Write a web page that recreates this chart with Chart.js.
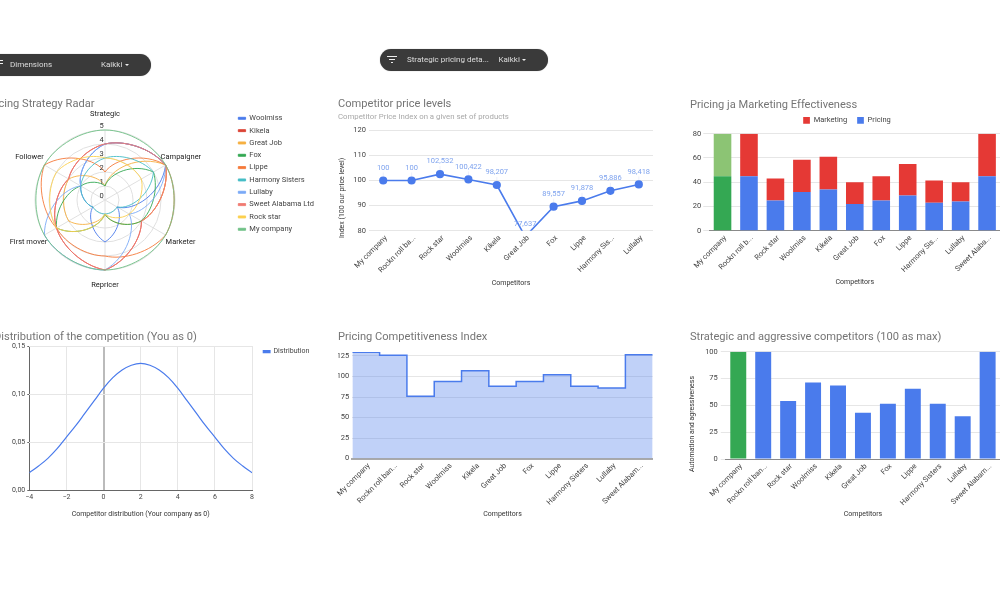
<!DOCTYPE html>
<html><head><meta charset="utf-8">
<script src="https://cdn.jsdelivr.net/npm/chart.js@4"></script>
<style>
html,body{margin:0;padding:0;background:#fff;width:1000px;height:600px;overflow:hidden;font-family:Roboto,Arial,sans-serif}
canvas{position:absolute;display:block;filter:blur(.35px)}
.pill{position:absolute;background:#3a3a3a;border-radius:12px;z-index:5;box-shadow:0 0 1px #999;filter:blur(.3px)}
.pill span{position:absolute;top:0;color:#dedede;font-size:8px;white-space:nowrap}
.pill i{position:absolute;height:1px;background:#eee;display:block}
.pill b{position:absolute;width:0;height:0;border-left:2.2px solid transparent;border-right:2.2px solid transparent;border-top:2.4px solid #eee}
</style></head><body>
<div class="pill" style="left:-30px;top:54px;width:181px;height:22px">
 <i style="left:27px;top:6px;width:6px"></i><i style="left:28px;top:9px;width:5px"></i>
 <span style="left:40px;line-height:22px">Dimensions</span><span style="left:131px;line-height:22px">Kaikki</span><b style="left:155px;top:10px"></b></div>
<div class="pill" style="left:380px;top:49px;width:168px;height:22px">
 <i style="left:7px;top:7px;width:10px"></i><i style="left:9px;top:10px;width:6px"></i><i style="left:11px;top:13px;width:2px"></i>
 <span style="left:27px;line-height:22px">Strategic pricing deta...</span><span style="left:118.5px;line-height:22px">Kaikki</span><b style="left:141.5px;top:10px"></b></div>
<script>
// ---------- data ----------
const radarAxes = ['Strategic','Campaigner','Marketer','Repricer','First mover','Follower'];
const radarTicks = [0,1,2,3,4,5];
const woolmiss = [4,5,1,3,1,2];
const kikela = [4,5,3,5,4,3];
const greatJob = [1,5,3,1,3,3];
const fox = [1,4,3,1,4,2];
const lippe = [2,5,5,4,4,5];
const harmony = [3,4,1,1,1,2];
const lullaby = [4,5,2,5,5,2];
const sweetAlabama = [4,5,3,5,4,3];
const rockStar = [3,3,2,1,4,4];
const myCompany = [5,5,5,5,5,5];

const priceCats = ['My company','Rockn roll ba...','Rock star','Woolmiss','Kikela','Great Job','Fox','Lippe','Harmony Sis...','Lullaby'];
const priceIdx = [100,100,102.532,100.422,98.207,77.637,89.557,91.878,95.886,98.418];

const effCats = ['My company','Rockn roll b...','Rock star','Woolmiss','Kikela','Great Job','Fox','Lippe','Harmony Sis...','Lullaby','Sweet Alaba...'];
const pricingVals = [45,45,25,32,34,22,25,29,23,24,45];
const marketingVals = [35,35,18,26.5,27,18,20,26,18.5,16,35];

const distX = [-4,-3.5,-3,-2.5,-2,-1.5,-1,-0.5,0,0.5,1,1.5,2,2.5,3,3.5,4,4.5,5,5.5,6,6.5,7,7.5,8];
const distY = [0.018,0.025,0.033,0.043,0.055,0.067,0.080,0.093,0.106,0.117,0.125,0.130,0.132,0.130,0.125,0.117,0.106,0.093,0.080,0.067,0.055,0.043,0.033,0.025,0.018];

const compCats = ['My company','Rockn roll ban...','Rock star','Woolmiss','Kikela','Great Job','Fox','Lippe','Harmony Sisters','Lullaby','Sweet Alabam...'];
const compIdx = [129.5,126,76,94,107,88,94,102,88,86,126.5];
const aggrVals = [100,100,54,71.4,68.6,43.2,51.5,65.5,51.5,39.8,100];

// ---------- style ----------
const FF = 'Roboto, Arial, sans-serif';
const BLUE='#4a7bec', GREEN='#34a853', RED='#e53935', LGREEN='#8cc474';
const GRID='#e6e6e6', TICK='#444', AXT='#333', TITLE='#757575';
const TS = 11.1;

function place(box){
  const c=document.createElement('canvas');
  c.width=box.R-box.L; c.height=box.B-box.T;
  c.style.left=box.L+'px'; c.style.top=box.T+'px';
  document.body.appendChild(c); return c;
}
function titleOpt(text,box,cy,next){
  const lh=TS*1.2,cc=cy+1.2;
  return {display:true,text,align:'start',color:TITLE,font:{family:FF,size:TS,weight:'normal'},
    padding:{top:cc-box.T-lh/2,bottom:next-cc-lh/2}};
}
function fitY(w){return s=>{s.width=w;s.paddingTop=0;s.paddingBottom=0;s.paddingLeft=0;s.paddingRight=0;};}
function fitX(h){return s=>{s.height=h;s.paddingTop=0;s.paddingBottom=0;s.paddingLeft=0;s.paddingRight=0;};}
function xTitle(text){return {display:true,text,color:AXT,font:{family:FF,size:7,weight:'normal'},padding:{top:0,bottom:0}};}
const slanted={autoSkip:false,minRotation:45,maxRotation:45,padding:3,labelOffset:3,color:TICK,font:{family:FF,size:7.5}};
function catX(box,area,extra){
  return Object.assign({
    offset:true,
    afterFit:fitX(box.B-area.b),
    grid:{display:false,drawTicks:false},
    border:{display:false},
    ticks:slanted,
    title:xTitle('Competitors')
  },extra||{});
}
function numY(box,area,tickLen,pad,extra){
  return Object.assign({
    afterFit:fitY(area.l-box.X),
    border:{display:false},
    grid:{color:GRID,drawTicks:tickLen>0,tickLength:tickLen,tickColor:GRID},
    ticks:{padding:pad,color:TICK,font:{family:FF,size:7.5}}
  },extra||{});
}
// y axis caption, placed lower than the plot middle as in the reference
function yCaption(text,x,cy,L,T){
  return {id:'yc',afterDraw(ch){const c=ch.ctx;c.save();c.translate(x-L,cy-T);c.rotate(-Math.PI/2);
    c.font='7px '+FF;c.fillStyle=AXT;c.textAlign='center';c.textBaseline='middle';c.fillText(text,0,0);c.restore();}};
}
function legendAt(x,y,L,T,rightEdge){
  return {id:'lgAt',afterLayout(ch){const l=ch.legend,o=l.options.labels,p=o.padding;
    if(x!==null){l.left=x-L-p;}
    l.top=y-T-p-o.font.size/2;l.right=rightEdge!==undefined?rightEdge-L:ch.width;l.bottom=ch.height;}};
}

// ---------- 1. radar ----------
(function(){
  const box={L:-15,T:92,R:330,B:292};
  const series=[['Woolmiss',woolmiss,'#4a7bec'],['Kikela',kikela,'#db4437'],['Great Job',greatJob,'#f6b042'],['Fox',fox,'#34a853'],
    ['Lippe',lippe,'#f5793a'],['Harmony Sisters',harmony,'#46bdc6'],['Lullaby',lullaby,'#7baaf7'],['Sweet Alabama Ltd',sweetAlabama,'#f07b72'],
    ['Rock star',rockStar,'#fcd04f'],['My company',myCompany,'#71c287']];
  const lblOff=[[0,-16.3,'center'],[-5,-8,'left'],[0,7,'left'],[0,15,'center'],[2.9,7,'right'],[-0.7,-8,'right']];
  new Chart(place(box),{type:'radar',
    data:{labels:radarAxes,datasets:series.map((s,i)=>({label:s[0],data:s[1],borderColor:s[2],backgroundColor:s[2],borderWidth:0.9,fill:false,tension:0.4,pointRadius:0,order:-i}))},
    options:{responsive:false,animation:false,
      layout:{padding:0},
      scales:{r:{min:0,max:5,
        afterBuildTicks:s=>{s.ticks=radarTicks.map(v=>({value:v}));},
        afterFit:s=>{s.xCenter=105-box.L;s.yCenter=200-box.T;s.drawingArea=70;},
        grid:{circular:true,color:'#e0e0e0'},angleLines:{color:'#e0e0e0'},
        pointLabels:{display:false},ticks:{display:false}}},
      plugins:{title:titleOpt('Pricing Strategy Radar',box,102.7,112),
        legend:{position:'chartArea',align:'start',labels:{sort:(a,b)=>a.datasetIndex-b.datasetIndex,boxWidth:7.3,boxHeight:2,padding:4.83,color:'#444',font:{family:FF,size:7.5}}}}},
    plugins:[legendAt(238.3,118.3,box.L,box.T),
    // curve handles follow the polar sweep between spokes (radius changes evenly with the angle)
    {id:'polarCurve',afterDatasetsUpdate(ch){
      const s=ch.scales.r,k=0.93,dA=Math.PI/3;
      ch.getSortedVisibleDatasetMetas().forEach(m=>{
        const pts=m.data,n=pts.length,vals=ch.data.datasets[m.index].data;
        const rho=vals.map(v=>s.getDistanceFromCenterForValue(v));
        for(let i=0;i<n;i++){
          const j=(i+1)%n,ai=s.getIndexAngle(i),aj=ai+dA,d=(rho[j]-rho[i])/dA;
          const tan=(r,a)=>[d*Math.sin(a)+r*Math.cos(a),-d*Math.cos(a)+r*Math.sin(a)];
          const ti=tan(rho[i],ai),tj=tan(rho[j],aj),h=k*dA/3;
          pts[i].cp2x=pts[i].x+ti[0]*h;pts[i].cp2y=pts[i].y+ti[1]*h;
          pts[j].cp1x=pts[j].x-tj[0]*h;pts[j].cp1y=pts[j].y-tj[1]*h;
        }
        m.dataset._pointsUpdated=true;
      });
    }},
    {id:'rlab',afterDatasetsDraw(ch){
      const s=ch.scales.r,c=ch.ctx;c.save();c.textBaseline='middle';c.fillStyle='#333';c.font='7.5px '+FF;c.textAlign='center';
      s.ticks.forEach(t=>{c.fillText(String(t.value),s.xCenter-3.3,s.yCenter-s.getDistanceFromCenterForValue(t.value)-4);});
      c.fillStyle='#222';
      radarAxes.forEach((a,i)=>{const p=s.getPointPosition(i,s.drawingArea),o=lblOff[i];c.textAlign=o[2];c.fillText(a,p.x+o[0],p.y+o[1]);});
      c.restore();}}]});
})();

// ---------- 2. price levels ----------
(function(){
  const box={L:328,X:338,T:92,R:660,B:287},area={l:369,r:653,t:130.3,b:230.7};
  const tc=102.7,sc=117,ss=7.8;
  new Chart(place(box),{type:'line',
    data:{labels:priceCats,datasets:[{data:priceIdx,borderColor:BLUE,backgroundColor:BLUE,borderWidth:1.6,pointRadius:3.3,pointHoverRadius:3.3,tension:0}]},
    options:{responsive:false,animation:false,layout:{padding:{left:box.X-box.L,right:box.R-area.r}},
      scales:{x:catX(box,area),y:numY(box,area,0,3,{min:80,max:120,ticks:{stepSize:10,padding:3,color:TICK,font:{family:FF,size:7.5}}})},
      plugins:{legend:{display:false},
        title:titleOpt('Competitor price levels',box,tc,sc-ss*0.6),
        subtitle:{display:true,text:'Competitor Price Index on a given set of products',align:'start',color:'#a8a8a8',font:{family:FF,size:ss,weight:'normal'},padding:{top:0,bottom:area.t-sc-ss*0.6}}}},
    plugins:[yCaption('Index (100 our price level)',342,198,box.L,box.T),{id:'vals',afterDatasetsDraw(ch){
      const m=ch.getDatasetMeta(0),c=ch.ctx;c.save();c.font='7.5px '+FF;c.textAlign='center';c.textBaseline='middle';
      m.data.forEach((p,i)=>{
        c.fillStyle='#7fa3ee';c.fillText(String(priceIdx[i]).replace('.',','),p.x,p.y-12.8);
        if(priceIdx[i]>=80){c.strokeStyle='rgba(150,170,230,.25)';c.lineWidth=0.7;c.beginPath();c.moveTo(p.x,p.y-3);c.lineTo(p.x,p.y-8);c.stroke();}
      });c.restore();}}]});
})();

// ---------- 3. effectiveness ----------
(function(){
  const box={L:680,X:690,T:92,R:1014,B:286},area={l:709.3,r:1000.3,t:133.7,b:230.7};
  const tc=104;
  const t=titleOpt('Pricing ja Marketing Effectiveness',box,tc,area.t-12);
  new Chart(place(box),{type:'bar',
    data:{labels:effCats,datasets:[
      {label:'Pricing',data:pricingVals,backgroundColor:c=>c.dataIndex===0?GREEN:BLUE,barPercentage:0.665,categoryPercentage:1},
      {label:'Marketing',data:marketingVals,backgroundColor:c=>c.dataIndex===0?LGREEN:RED,barPercentage:0.665,categoryPercentage:1}]},
    options:{responsive:false,animation:false,layout:{padding:{left:box.X-box.L,right:box.R-area.r}},
      scales:{x:catX(box,area,{stacked:true,border:{display:true,color:'#8a8a8a'}}),
        y:numY(box,area,6,2,{stacked:true,min:0,max:80,ticks:{stepSize:20,padding:2,color:TICK,font:{family:FF,size:7.5}}})},
      plugins:{title:t,legend:{position:'top',maxHeight:12,reverse:true,
        labels:{generateLabels:ch=>ch.data.datasets.map((d,i)=>({text:d.label,datasetIndex:i,fillStyle:i?RED:BLUE,strokeStyle:'rgba(0,0,0,0)',lineWidth:0,fontColor:'#444'})),
          boxWidth:6.7,boxHeight:6.7,padding:10,color:'#444',font:{family:FF,size:7.5}}}}},
    plugins:[legendAt(null,120.3,box.L,box.T,1004)]});
})();

// ---------- 4. distribution ----------
(function(){
  const box={L:-6,X:-6,T:326,R:320,B:518},area={l:29.3,r:252,t:351.7,b:490};
  new Chart(place(box),{type:'line',
    data:{datasets:[{label:'Distribution',data:distX.map((x,i)=>({x,y:distY[i]})),borderColor:BLUE,backgroundColor:BLUE,borderWidth:1.2,pointRadius:0,tension:0.4}]},
    options:{responsive:false,animation:false,layout:{padding:{right:box.R-area.r}},
      scales:{
        x:{type:'linear',min:-4,max:8,afterFit:fitX(box.B-area.b),
          grid:{color:c=>c.tick.value===0?'#bbbbbb':c.tick.value===-4?'#666666':GRID,lineWidth:c=>c.tick.value===0?2:1,drawTicks:false},
          border:{display:true,color:'#666'},
          ticks:{stepSize:2,padding:3,color:TICK,font:{family:FF,size:7},callback:v=>String(v).replace('-','\u2212')},
          title:xTitle('Competitor distribution (Your company as 0)')},
        y:numY(box,area,2,2,{min:0,max:0.15,
          grid:{color:GRID,tickLength:2,tickColor:'#666'},border:{display:false},
          ticks:{stepSize:0.05,padding:2,color:TICK,font:{family:FF,size:7},callback:v=>v.toFixed(2).replace('.',',')}})},
      plugins:{title:titleOpt('Distribution of the competition (You as 0)',box,335.7,346),
        legend:{position:'chartArea',align:'start',labels:{boxWidth:6.7,boxHeight:2,padding:3.33,color:'#444',font:{family:FF,size:7}}}}},
    plugins:[legendAt(263.3,351.7,box.L,box.T)]});
})();

// ---------- 5. competitiveness ----------
(function(){
  const box={L:328,X:338,T:322,R:660,B:518},area={l:352.3,r:652.7,t:351.9,b:458.5};
  const steps=compIdx.map((v,i)=>({x:i-0.5,y:v})).concat([{x:compIdx.length-0.5,y:compIdx[compIdx.length-1]}]);
  new Chart(place(box),{type:'line',
    data:{datasets:[{data:steps,stepped:true,borderColor:BLUE,backgroundColor:'rgba(74,123,236,0.35)',fill:'origin',borderWidth:1.5,pointRadius:0}]},
    options:{responsive:false,animation:false,layout:{padding:{left:box.X-box.L,right:box.R-area.r}},
      scales:{
        x:catX(box,area,{type:'linear',offset:false,min:-0.5,max:10.5,border:{display:true,color:'#aaaaaa',width:2},
          afterBuildTicks:s=>{s.ticks=compCats.map((c,i)=>({value:i}));},
          ticks:Object.assign({},slanted,{callback:v=>compCats[v]})}),
        y:numY(box,area,0,3,{min:0,max:130,afterBuildTicks:s=>{s.ticks=s.ticks.filter(t=>t.value%25===0);},
          ticks:{stepSize:25,includeBounds:false,padding:3,color:TICK,font:{family:FF,size:7.5}}})},
      plugins:{legend:{display:false},title:titleOpt('Pricing Competitiveness Index',box,335.7,area.t)}}});
})();

// ---------- 6. aggressive ----------
(function(){
  const box={L:680,X:690,T:322,R:1014,B:518},area={l:725.8,r:1000.1,t:351.7,b:459};
  new Chart(place(box),{type:'bar',
    data:{labels:compCats,datasets:[{data:aggrVals,backgroundColor:c=>c.dataIndex===0?GREEN:BLUE,barPercentage:0.64,categoryPercentage:1}]},
    options:{responsive:false,animation:false,layout:{padding:{left:box.X-box.L,right:box.R-area.r}},
      scales:{x:catX(box,area,{border:{display:true,color:'#8a8a8a'}}),
        y:numY(box,area,5,3,{min:0,max:100,ticks:{stepSize:25,padding:3,color:TICK,font:{family:FF,size:7.5}}})},
      plugins:{legend:{display:false},title:titleOpt('Strategic and aggressive competitors (100 as max)',box,335.7,area.t)}},
    plugins:[yCaption('Automation and agressiveness',692.7,424,box.L,box.T)]});
})();
</script>
</body></html>
